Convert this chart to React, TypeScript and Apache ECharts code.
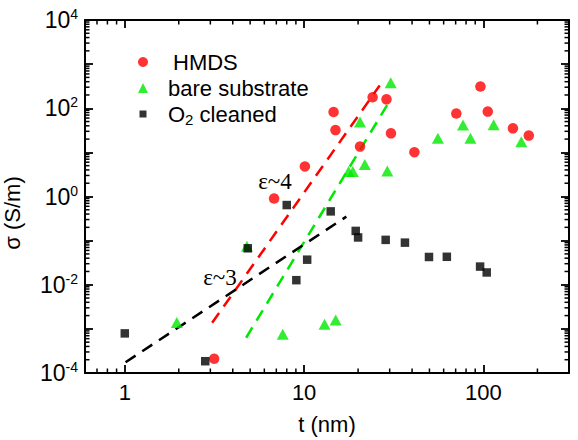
import React, { useEffect, useRef } from "react";
import * as echarts from "echarts";

// Film thickness t (nm) and conductivity sigma (S/m) for each substrate treatment
const hmdsT = [3.15, 6.8, 10.1, 14.6, 14.96, 20.5, 24.1, 28.8, 30.5, 41.2, 70.6, 96.2, 105.7, 146, 179];
const hmdsSigma = [2.1e-4, 0.9, 4.8, 82, 32, 13.5, 177, 159, 27, 10.1, 76, 310, 84, 35, 24];

const bareT = [1.95, 4.8, 7.6, 13.0, 15.0, 17.7, 18.7, 20.5, 21.8, 29.1, 30.4, 55.7, 76.9, 84.6, 114, 162.6];
const bareSigma = [1.4e-3, 0.075, 7.6e-4, 1.28e-3, 1.58e-3, 3.7, 3.7, 49, 5.3, 3.8, 378, 21, 41.5, 21, 42, 17.5];

const o2T = [1.0, 2.81, 4.85, 8.0, 9.05, 10.4, 14.07, 19.4, 20.0, 28.5, 36.5, 49.7, 62.5, 95.8, 104.3];
const o2Sigma = [7.9e-4, 1.85e-4, 0.067, 0.64, 0.0127, 0.037, 0.46, 0.166, 0.118, 0.104, 0.09, 0.0426, 0.043, 0.0258, 0.019];

// Dashed power-law guides (start and end points)
const fitRedT = [3.07, 26.4];
const fitRedSigma = [1.37e-3, 329];
const fitGreenT = [4.75, 30.4];
const fitGreenSigma = [6.3e-4, 160];
const fitBlackT = [1.01, 17.2];
const fitBlackSigma = [1.75e-4, 0.35];

// Axis ranges and minor tick positions
const tRange = [0.6, 300];
const sigmaRange = [1e-4, 1e4];
const xMinorTicks = [0.7, 0.8, 0.9, 2, 3, 4, 5, 6, 7, 8, 9, 20, 30, 40, 50, 60, 70, 80, 90, 200];
const minorMultipliers = [2, 3, 4, 5, 6, 7, 8, 9];
const sigmaDecades = [1e-4, 1e-3, 1e-2, 1e-1, 1, 10, 100, 1000];
const yMinorTicks = sigmaDecades.flatMap((d) => minorMultipliers.map((m) => m * d));

const SANS = 'Arial, "Liberation Sans", Helvetica, sans-serif';
const SERIF = '"Times New Roman", "Liberation Serif", serif';
const RED = "#ff0000";
const GREEN = "#00e800";
const BLACK = "#000000";
const TICK = "#000";

const isDecade = (v: number) => Math.abs(Math.log10(v) - Math.round(Math.log10(v))) < 1e-6;

const axisLine = () => ({ show: true, lineStyle: { color: "#000", width: 2 } });
const majorTick = () => ({ show: true, inside: true, length: 8, lineStyle: { color: TICK, width: 1.8 } });

const MINOR_LEN = 4.5;
const minorStyle = () => ({ stroke: TICK, lineWidth: 1.5 });

// Short inward ticks between decades, mirrored on both sides of the frame
function renderXMinor(params: any, api: any) {
  const cs = params.coordSys;
  const p = api.coord([api.value(0), api.value(1)]);
  const yb = cs.y + cs.height;
  const yt = cs.y;
  return {
    type: "group",
    children: [
      { type: "line", shape: { x1: p[0], y1: yb, x2: p[0], y2: yb - MINOR_LEN }, style: minorStyle() },
      { type: "line", shape: { x1: p[0], y1: yt, x2: p[0], y2: yt + MINOR_LEN }, style: minorStyle() },
    ],
  };
}

function renderYMinor(params: any, api: any) {
  const cs = params.coordSys;
  const p = api.coord([api.value(0), api.value(1)]);
  const xl = cs.x;
  const xr = cs.x + cs.width;
  return {
    type: "group",
    children: [
      { type: "line", shape: { x1: xl, y1: p[1], x2: xl + MINOR_LEN, y2: p[1] }, style: minorStyle() },
      { type: "line", shape: { x1: xr, y1: p[1], x2: xr - MINOR_LEN, y2: p[1] }, style: minorStyle() },
    ],
  };
}

const pairs = (xs: number[], ys: number[]) => xs.map((x, i) => [x, ys[i]]);

const squareIcon = "path://M0,0M10,10M1.5,1.5L8.5,1.5L8.5,8.5L1.5,8.5Z";

export default function App() {
  const ref = useRef<HTMLDivElement>(null);

  useEffect(() => {
    document.body.style.margin = "0";
    const chart = echarts.init(ref.current!, null, { renderer: "svg" });
    chart.setOption({
      animation: false,
      backgroundColor: "#fff",
      grid: { left: 85, right: 9, top: 20, bottom: 64, containLabel: false },
      legend: {
        orient: "vertical",
        left: 133,
        top: 46,
        itemWidth: 10,
        itemHeight: 10,
        itemGap: 4,
        selectedMode: false,
        data: [
          { name: "HMDS", icon: "circle" },
          { name: "bare substrate", icon: "triangle" },
          { name: "O2 cleaned", icon: squareIcon },
        ],
        formatter: (name: string) => {
          if (name === "HMDS") return "{h|HMDS}";
          if (name === "O2 cleaned") return "{a|O}{sub|2}{a| cleaned}";
          return `{a|${name}}`;
        },
        textStyle: {
          padding: [0, 0, 0, 15],
          rich: {
            a: { fontSize: 22, fontFamily: SANS, color: "#000", lineHeight: 22 },
            h: { fontSize: 22, fontFamily: SANS, color: "#000", lineHeight: 22, padding: [0, 0, 0, 5] },
            sub: { fontSize: 15, fontFamily: SANS, color: "#000", padding: [10, 0, 0, 0] },
          },
        },
      },
      xAxis: [
        {
          type: "log",
          min: tRange[0],
          max: tRange[1],
          position: "bottom",
          axisLine: axisLine(),
          axisTick: majorTick(),
          splitLine: { show: false },
          axisLabel: {
            color: "#000",
            fontSize: 22,
            fontFamily: SANS,
            margin: 8,
            showMinLabel: false,
            showMaxLabel: false,
            formatter: (v: number) => (isDecade(v) ? String(Math.round(v)) : ""),
          },
          name: "t (nm)",
          nameLocation: "middle",
          nameGap: 40,
          nameTextStyle: { color: "#000", fontSize: 22, fontFamily: SANS },
        },
        {
          type: "log",
          min: tRange[0],
          max: tRange[1],
          position: "top",
          axisLine: axisLine(),
          axisTick: majorTick(),
          axisLabel: { show: false },
          splitLine: { show: false },
        },
      ],
      yAxis: [
        {
          type: "log",
          min: sigmaRange[0],
          max: sigmaRange[1],
          position: "left",
          axisLine: axisLine(),
          axisTick: majorTick(),
          splitLine: { show: false },
          axisLabel: {
            color: "#000",
            margin: 7,
            formatter: (v: number) => {
              if (!isDecade(v)) return "";
              const e = Math.round(Math.log10(v));
              if (e % 2 !== 0) return "";
              return `{b|10}{s|${e}}`;
            },
            rich: {
              b: { fontSize: 23, fontFamily: SANS, color: "#000" },
              s: { fontSize: 14, fontFamily: SANS, color: "#000", padding: [0, 0, 12, 0] },
            },
          },
        },
        {
          type: "log",
          min: sigmaRange[0],
          max: sigmaRange[1],
          position: "right",
          axisLine: axisLine(),
          axisTick: majorTick(),
          axisLabel: { show: false },
          splitLine: { show: false },
        },
      ],
      graphic: [
        {
          type: "text",
          x: 12,
          y: 213,
          rotation: Math.PI / 2,
          style: { text: "σ (S/m)", fontSize: 22, fontFamily: SANS, fill: "#000", align: "center", verticalAlign: "middle" },
        },
        {
          type: "text",
          x: 275,
          y: 181,
          style: { text: "ε~4", fontSize: 23, fontFamily: SERIF, fill: "#000", align: "center", verticalAlign: "middle" },
        },
        {
          type: "text",
          x: 220,
          y: 277,
          style: { text: "ε~3", fontSize: 23, fontFamily: SERIF, fill: "#000", align: "center", verticalAlign: "middle" },
        },
      ],
      series: [
        { name: "xMinor", type: "custom", silent: true, renderItem: renderXMinor, data: xMinorTicks.map((v) => [v, 1]), z: 1 },
        { name: "yMinor", type: "custom", silent: true, renderItem: renderYMinor, data: yMinorTicks.map((v) => [1, v]), z: 1 },
        { name: "fitRed", type: "line", symbol: "none", silent: true, data: pairs(fitRedT, fitRedSigma), lineStyle: { color: RED, width: 2.5, type: [12, 8] }, z: 2 },
        { name: "fitGreen", type: "line", symbol: "none", silent: true, data: pairs(fitGreenT, fitGreenSigma), lineStyle: { color: GREEN, width: 2.5, type: [12, 8] }, z: 2 },
        { name: "fitBlack", type: "line", symbol: "none", silent: true, data: pairs(fitBlackT, fitBlackSigma), lineStyle: { color: BLACK, width: 2.5, type: [12, 8] }, z: 2 },
        { name: "bare substrate", type: "scatter", symbol: "triangle", symbolSize: [12, 11], itemStyle: { color: GREEN }, data: pairs(bareT, bareSigma), z: 3 },
        { name: "HMDS", type: "scatter", symbol: "circle", symbolSize: 10.5, itemStyle: { color: RED }, data: pairs(hmdsT, hmdsSigma), z: 4 },
        { name: "O2 cleaned", type: "scatter", symbol: "rect", symbolSize: 8.5, itemStyle: { color: BLACK }, data: pairs(o2T, o2Sigma), z: 5 },
      ],
    });
    return () => chart.dispose();
  }, []);

  return <div ref={ref} style={{ position: "absolute", left: 0, top: 0, width: 578, height: 440 }} />;
}
